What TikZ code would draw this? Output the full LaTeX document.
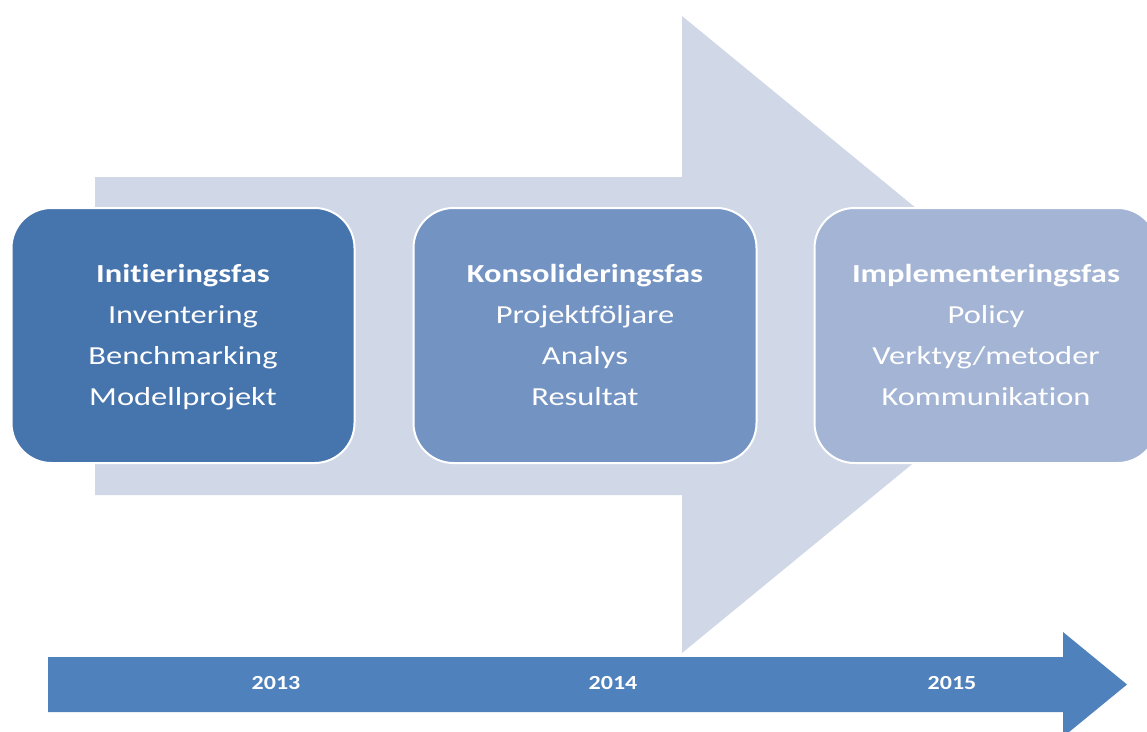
\documentclass[tikz,border=0pt]{standalone}
\usepackage{fontspec}
\setmainfont{Carlito}[Ligatures=NoCommon]
\usetikzlibrary{positioning}
\definecolor{C0}{HTML}{4674AD}
\definecolor{C1}{HTML}{7393C3}
\definecolor{C2}{HTML}{A3B4D5}
\definecolor{CA}{HTML}{D0D8E8}
\definecolor{CT}{HTML}{4F81BD}
\newcommand{\phasetext}[1]{\scalebox{1.25}[1]{\begin{tabular}{@{}c@{}}#1\end{tabular}}}
\newcommand{\yeartext}[1]{\scalebox{1.2}[1]{#1}}

\begin{document}
\begin{tikzpicture}[x=1pt, y=-1pt,
    phase/.style={draw=white, line width=2pt, rounded corners=40pt, minimum width=343pt,
        minimum height=255pt, inner sep=0pt, outer sep=0pt, text=white,
        font=\fontsize{26}{41}\selectfont},
    year/.style={text=white, inner sep=0pt, font=\fontsize{20}{24}\selectfont\bfseries}]
    \useasboundingbox (0,0) rectangle (1147,731);
    \clip (0,0) rectangle (1147,731);
        % big background arrow
        \fill [CA] (95,177) -- (682,177) -- (682,16) -- (1070,334.5) -- (682,653) -- (682,495) -- (95,495) -- cycle;
        % time line
        \fill [CT] (48,657) -- (1063,657) -- (1063,632) -- (1127,684.5) -- (1063,737) -- (1063,712) -- (48,712) -- cycle;
        \node [phase, fill=C0] (init) at (183,335.5) {\phasetext{\textbf{Initieringsfas}\\Inventering\\Benchmarking\\Modellprojekt}};
        \node [phase, fill=C1, right=59pt of init] (kons) {\phasetext{\textbf{Konsolideringsfas}\\Projektföljare\\Analys\\Resultat}};
        \node [phase, fill=C2, right=58pt of kons] (impl) {\phasetext{\textbf{Implementeringsfas}\\Policy\\Verktyg/metoder\\Kommunikation}};
        \node [year] (y2013) at (276,683) {\yeartext{2013}};
        \node [year] (y2014) at (613,683) {\yeartext{2014}};
        \node [year] (y2015) at (952,683) {\yeartext{2015}};
    \end{tikzpicture}
\end{document}
